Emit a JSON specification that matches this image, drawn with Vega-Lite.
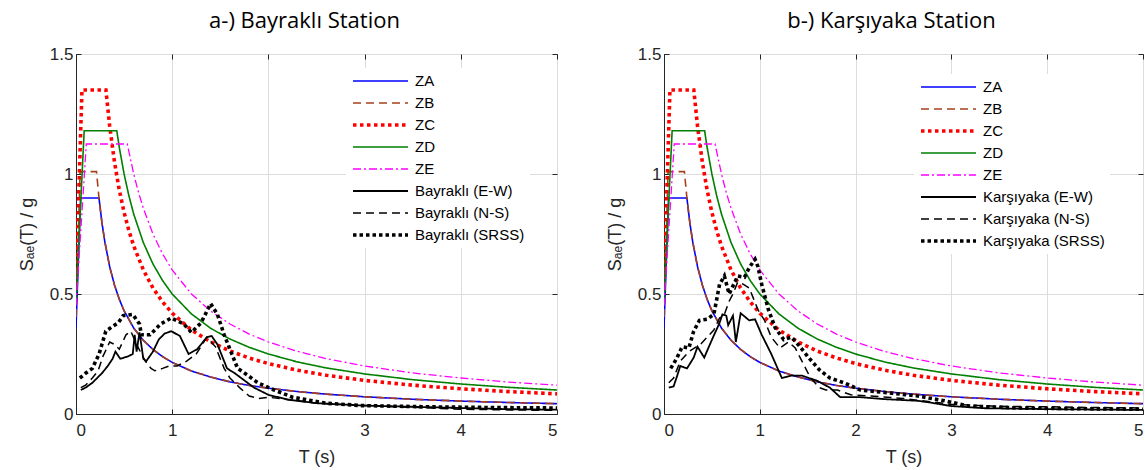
{
  "$schema": "https://vega.github.io/schema/vega-lite/v6.json",
  "padding": {"left": 17, "top": 9, "right": 0, "bottom": 0},
  "background": "white",
  "spacing": 44,
  "resolve": {
    "scale": {"color": "independent", "strokeDash": "independent", "strokeWidth": "independent"},
    "legend": {"color": "independent", "strokeDash": "independent", "strokeWidth": "independent"}
  },
  "config": {
    "view": {"stroke": "#262626", "strokeWidth": 1},
    "title": {"font": "Open Sans", "fontSize": 22, "fontWeight": "normal", "color": "#000000", "offset": 12, "dx": -12},
    "axis": {
      "domainColor": "#262626", "tickColor": "#262626", "labelColor": "#262626", "titleColor": "#262626",
      "labelFont": "Liberation Sans", "labelFontSize": 17, "titleFont": "Liberation Sans", "titleFontSize": 18,
      "titleFontWeight": "normal", "gridColor": "#dcdcdc", "gridWidth": 1, "tickSize": -5, "labelPadding": 8
    },
    "legend": {
      "labelFont": "Liberation Sans", "labelFontSize": 15, "labelColor": "#000000",
      "symbolSize": 3025, "symbolType": "stroke", "clipHeight": 16, "rowPadding": 6,
      "fillColor": "white", "padding": 5, "labelOffset": 5
    }
  },
  "datasets": {
    "design": [
      {"series": "ZA", "T": 0, "Sa": 0.36}, {"series": "ZA", "T": 0.048, "Sa": 0.9}, {"series": "ZA", "T": 0.239, "Sa": 0.9},
      {"series": "ZA", "T": 0.27, "Sa": 0.796}, {"series": "ZA", "T": 0.3, "Sa": 0.717}, {"series": "ZA", "T": 0.35, "Sa": 0.614},
      {"series": "ZA", "T": 0.4, "Sa": 0.5375}, {"series": "ZA", "T": 0.45, "Sa": 0.478}, {"series": "ZA", "T": 0.5, "Sa": 0.43},
      {"series": "ZA", "T": 0.6, "Sa": 0.358}, {"series": "ZA", "T": 0.7, "Sa": 0.307}, {"series": "ZA", "T": 0.8, "Sa": 0.269},
      {"series": "ZA", "T": 0.9, "Sa": 0.239}, {"series": "ZA", "T": 1.0, "Sa": 0.215}, {"series": "ZA", "T": 1.2, "Sa": 0.179},
      {"series": "ZA", "T": 1.4, "Sa": 0.154}, {"series": "ZA", "T": 1.6, "Sa": 0.134}, {"series": "ZA", "T": 1.8, "Sa": 0.119},
      {"series": "ZA", "T": 2.0, "Sa": 0.1075}, {"series": "ZA", "T": 2.3, "Sa": 0.0935}, {"series": "ZA", "T": 2.6, "Sa": 0.0827},
      {"series": "ZA", "T": 3.0, "Sa": 0.0717}, {"series": "ZA", "T": 3.5, "Sa": 0.0614}, {"series": "ZA", "T": 4.0, "Sa": 0.0538},
      {"series": "ZA", "T": 4.5, "Sa": 0.0478}, {"series": "ZA", "T": 5.0, "Sa": 0.043},

      {"series": "ZB", "T": 0, "Sa": 0.404}, {"series": "ZB", "T": 0.0426, "Sa": 1.01}, {"series": "ZB", "T": 0.213, "Sa": 1.01},
      {"series": "ZB", "T": 0.24, "Sa": 0.896}, {"series": "ZB", "T": 0.27, "Sa": 0.796}, {"series": "ZB", "T": 0.3, "Sa": 0.717},
      {"series": "ZB", "T": 0.35, "Sa": 0.614}, {"series": "ZB", "T": 0.4, "Sa": 0.5375}, {"series": "ZB", "T": 0.45, "Sa": 0.478},
      {"series": "ZB", "T": 0.5, "Sa": 0.43}, {"series": "ZB", "T": 0.6, "Sa": 0.358}, {"series": "ZB", "T": 0.7, "Sa": 0.307},
      {"series": "ZB", "T": 0.8, "Sa": 0.269}, {"series": "ZB", "T": 0.9, "Sa": 0.239}, {"series": "ZB", "T": 1.0, "Sa": 0.215},
      {"series": "ZB", "T": 1.2, "Sa": 0.179}, {"series": "ZB", "T": 1.4, "Sa": 0.154}, {"series": "ZB", "T": 1.6, "Sa": 0.134},
      {"series": "ZB", "T": 1.8, "Sa": 0.119}, {"series": "ZB", "T": 2.0, "Sa": 0.1075}, {"series": "ZB", "T": 2.3, "Sa": 0.0935},
      {"series": "ZB", "T": 2.6, "Sa": 0.0827}, {"series": "ZB", "T": 3.0, "Sa": 0.0717}, {"series": "ZB", "T": 3.5, "Sa": 0.0614},
      {"series": "ZB", "T": 4.0, "Sa": 0.0538}, {"series": "ZB", "T": 4.5, "Sa": 0.0478}, {"series": "ZB", "T": 5.0, "Sa": 0.043},

      {"series": "ZC", "T": 0, "Sa": 0.54}, {"series": "ZC", "T": 0.062, "Sa": 1.35}, {"series": "ZC", "T": 0.311, "Sa": 1.35},
      {"series": "ZC", "T": 0.35, "Sa": 1.2}, {"series": "ZC", "T": 0.4, "Sa": 1.05}, {"series": "ZC", "T": 0.45, "Sa": 0.933},
      {"series": "ZC", "T": 0.5, "Sa": 0.84}, {"series": "ZC", "T": 0.55, "Sa": 0.764}, {"series": "ZC", "T": 0.6, "Sa": 0.7},
      {"series": "ZC", "T": 0.7, "Sa": 0.6}, {"series": "ZC", "T": 0.8, "Sa": 0.525}, {"series": "ZC", "T": 0.9, "Sa": 0.467},
      {"series": "ZC", "T": 1.0, "Sa": 0.42}, {"series": "ZC", "T": 1.2, "Sa": 0.35}, {"series": "ZC", "T": 1.4, "Sa": 0.3},
      {"series": "ZC", "T": 1.6, "Sa": 0.2625}, {"series": "ZC", "T": 1.8, "Sa": 0.2333}, {"series": "ZC", "T": 2.0, "Sa": 0.21},
      {"series": "ZC", "T": 2.3, "Sa": 0.1826}, {"series": "ZC", "T": 2.6, "Sa": 0.1615}, {"series": "ZC", "T": 3.0, "Sa": 0.14},
      {"series": "ZC", "T": 3.5, "Sa": 0.12}, {"series": "ZC", "T": 4.0, "Sa": 0.105}, {"series": "ZC", "T": 4.5, "Sa": 0.0933},
      {"series": "ZC", "T": 5.0, "Sa": 0.084},

      {"series": "ZD", "T": 0, "Sa": 0.472}, {"series": "ZD", "T": 0.085, "Sa": 1.18}, {"series": "ZD", "T": 0.424, "Sa": 1.18},
      {"series": "ZD", "T": 0.45, "Sa": 1.111}, {"series": "ZD", "T": 0.5, "Sa": 1.0}, {"series": "ZD", "T": 0.55, "Sa": 0.909},
      {"series": "ZD", "T": 0.6, "Sa": 0.833}, {"series": "ZD", "T": 0.7, "Sa": 0.714}, {"series": "ZD", "T": 0.8, "Sa": 0.625},
      {"series": "ZD", "T": 0.9, "Sa": 0.556}, {"series": "ZD", "T": 1.0, "Sa": 0.5}, {"series": "ZD", "T": 1.2, "Sa": 0.417},
      {"series": "ZD", "T": 1.4, "Sa": 0.357}, {"series": "ZD", "T": 1.6, "Sa": 0.3125}, {"series": "ZD", "T": 1.8, "Sa": 0.278},
      {"series": "ZD", "T": 2.0, "Sa": 0.25}, {"series": "ZD", "T": 2.3, "Sa": 0.217}, {"series": "ZD", "T": 2.6, "Sa": 0.192},
      {"series": "ZD", "T": 3.0, "Sa": 0.167}, {"series": "ZD", "T": 3.5, "Sa": 0.143}, {"series": "ZD", "T": 4.0, "Sa": 0.125},
      {"series": "ZD", "T": 4.5, "Sa": 0.111}, {"series": "ZD", "T": 5.0, "Sa": 0.1},

      {"series": "ZE", "T": 0, "Sa": 0.45}, {"series": "ZE", "T": 0.107, "Sa": 1.125}, {"series": "ZE", "T": 0.533, "Sa": 1.125},
      {"series": "ZE", "T": 0.6, "Sa": 1.0}, {"series": "ZE", "T": 0.65, "Sa": 0.923}, {"series": "ZE", "T": 0.7, "Sa": 0.857},
      {"series": "ZE", "T": 0.8, "Sa": 0.75}, {"series": "ZE", "T": 0.9, "Sa": 0.667}, {"series": "ZE", "T": 1.0, "Sa": 0.6},
      {"series": "ZE", "T": 1.2, "Sa": 0.5}, {"series": "ZE", "T": 1.4, "Sa": 0.429}, {"series": "ZE", "T": 1.6, "Sa": 0.375},
      {"series": "ZE", "T": 1.8, "Sa": 0.333}, {"series": "ZE", "T": 2.0, "Sa": 0.3}, {"series": "ZE", "T": 2.3, "Sa": 0.261},
      {"series": "ZE", "T": 2.6, "Sa": 0.231}, {"series": "ZE", "T": 3.0, "Sa": 0.2}, {"series": "ZE", "T": 3.5, "Sa": 0.171},
      {"series": "ZE", "T": 4.0, "Sa": 0.15}, {"series": "ZE", "T": 4.5, "Sa": 0.133}, {"series": "ZE", "T": 5.0, "Sa": 0.12}
    ],
    "records": [
      {"station": "B", "series": "Bayraklı (E-W)", "T": 0.05, "Sa": 0.10}, {"station": "B", "series": "Bayraklı (E-W)", "T": 0.1, "Sa": 0.11},
      {"station": "B", "series": "Bayraklı (E-W)", "T": 0.17, "Sa": 0.13}, {"station": "B", "series": "Bayraklı (E-W)", "T": 0.27, "Sa": 0.17},
      {"station": "B", "series": "Bayraklı (E-W)", "T": 0.33, "Sa": 0.2}, {"station": "B", "series": "Bayraklı (E-W)", "T": 0.38, "Sa": 0.23},
      {"station": "B", "series": "Bayraklı (E-W)", "T": 0.41, "Sa": 0.26}, {"station": "B", "series": "Bayraklı (E-W)", "T": 0.46, "Sa": 0.23},
      {"station": "B", "series": "Bayraklı (E-W)", "T": 0.54, "Sa": 0.24}, {"station": "B", "series": "Bayraklı (E-W)", "T": 0.59, "Sa": 0.25},
      {"station": "B", "series": "Bayraklı (E-W)", "T": 0.61, "Sa": 0.33}, {"station": "B", "series": "Bayraklı (E-W)", "T": 0.63, "Sa": 0.26},
      {"station": "B", "series": "Bayraklı (E-W)", "T": 0.66, "Sa": 0.34}, {"station": "B", "series": "Bayraklı (E-W)", "T": 0.7, "Sa": 0.23},
      {"station": "B", "series": "Bayraklı (E-W)", "T": 0.73, "Sa": 0.22}, {"station": "B", "series": "Bayraklı (E-W)", "T": 0.8, "Sa": 0.26},
      {"station": "B", "series": "Bayraklı (E-W)", "T": 0.86, "Sa": 0.31}, {"station": "B", "series": "Bayraklı (E-W)", "T": 0.92, "Sa": 0.335},
      {"station": "B", "series": "Bayraklı (E-W)", "T": 0.99, "Sa": 0.345}, {"station": "B", "series": "Bayraklı (E-W)", "T": 1.08, "Sa": 0.325},
      {"station": "B", "series": "Bayraklı (E-W)", "T": 1.17, "Sa": 0.25}, {"station": "B", "series": "Bayraklı (E-W)", "T": 1.26, "Sa": 0.27},
      {"station": "B", "series": "Bayraklı (E-W)", "T": 1.36, "Sa": 0.32}, {"station": "B", "series": "Bayraklı (E-W)", "T": 1.41, "Sa": 0.325},
      {"station": "B", "series": "Bayraklı (E-W)", "T": 1.47, "Sa": 0.29}, {"station": "B", "series": "Bayraklı (E-W)", "T": 1.51, "Sa": 0.25},
      {"station": "B", "series": "Bayraklı (E-W)", "T": 1.57, "Sa": 0.19}, {"station": "B", "series": "Bayraklı (E-W)", "T": 1.65, "Sa": 0.17},
      {"station": "B", "series": "Bayraklı (E-W)", "T": 1.75, "Sa": 0.14}, {"station": "B", "series": "Bayraklı (E-W)", "T": 1.85, "Sa": 0.11},
      {"station": "B", "series": "Bayraklı (E-W)", "T": 2.0, "Sa": 0.08}, {"station": "B", "series": "Bayraklı (E-W)", "T": 2.2, "Sa": 0.06},
      {"station": "B", "series": "Bayraklı (E-W)", "T": 2.5, "Sa": 0.045}, {"station": "B", "series": "Bayraklı (E-W)", "T": 3.0, "Sa": 0.035},
      {"station": "B", "series": "Bayraklı (E-W)", "T": 3.5, "Sa": 0.03}, {"station": "B", "series": "Bayraklı (E-W)", "T": 4.0, "Sa": 0.025},
      {"station": "B", "series": "Bayraklı (E-W)", "T": 4.5, "Sa": 0.02}, {"station": "B", "series": "Bayraklı (E-W)", "T": 5.0, "Sa": 0.018},

      {"station": "B", "series": "Bayraklı (N-S)", "T": 0.05, "Sa": 0.11}, {"station": "B", "series": "Bayraklı (N-S)", "T": 0.1, "Sa": 0.12},
      {"station": "B", "series": "Bayraklı (N-S)", "T": 0.17, "Sa": 0.15}, {"station": "B", "series": "Bayraklı (N-S)", "T": 0.23, "Sa": 0.18},
      {"station": "B", "series": "Bayraklı (N-S)", "T": 0.28, "Sa": 0.24}, {"station": "B", "series": "Bayraklı (N-S)", "T": 0.35, "Sa": 0.3},
      {"station": "B", "series": "Bayraklı (N-S)", "T": 0.4, "Sa": 0.29}, {"station": "B", "series": "Bayraklı (N-S)", "T": 0.45, "Sa": 0.27},
      {"station": "B", "series": "Bayraklı (N-S)", "T": 0.52, "Sa": 0.33}, {"station": "B", "series": "Bayraklı (N-S)", "T": 0.57, "Sa": 0.345},
      {"station": "B", "series": "Bayraklı (N-S)", "T": 0.63, "Sa": 0.29}, {"station": "B", "series": "Bayraklı (N-S)", "T": 0.72, "Sa": 0.22},
      {"station": "B", "series": "Bayraklı (N-S)", "T": 0.78, "Sa": 0.19}, {"station": "B", "series": "Bayraklı (N-S)", "T": 0.82, "Sa": 0.18},
      {"station": "B", "series": "Bayraklı (N-S)", "T": 0.9, "Sa": 0.19}, {"station": "B", "series": "Bayraklı (N-S)", "T": 0.97, "Sa": 0.2},
      {"station": "B", "series": "Bayraklı (N-S)", "T": 1.05, "Sa": 0.2}, {"station": "B", "series": "Bayraklı (N-S)", "T": 1.15, "Sa": 0.22},
      {"station": "B", "series": "Bayraklı (N-S)", "T": 1.25, "Sa": 0.25}, {"station": "B", "series": "Bayraklı (N-S)", "T": 1.36, "Sa": 0.32},
      {"station": "B", "series": "Bayraklı (N-S)", "T": 1.45, "Sa": 0.28}, {"station": "B", "series": "Bayraklı (N-S)", "T": 1.54, "Sa": 0.19},
      {"station": "B", "series": "Bayraklı (N-S)", "T": 1.6, "Sa": 0.15}, {"station": "B", "series": "Bayraklı (N-S)", "T": 1.7, "Sa": 0.11},
      {"station": "B", "series": "Bayraklı (N-S)", "T": 1.8, "Sa": 0.075}, {"station": "B", "series": "Bayraklı (N-S)", "T": 1.9, "Sa": 0.065},
      {"station": "B", "series": "Bayraklı (N-S)", "T": 2.0, "Sa": 0.07}, {"station": "B", "series": "Bayraklı (N-S)", "T": 2.2, "Sa": 0.06},
      {"station": "B", "series": "Bayraklı (N-S)", "T": 2.5, "Sa": 0.045}, {"station": "B", "series": "Bayraklı (N-S)", "T": 3.0, "Sa": 0.035},
      {"station": "B", "series": "Bayraklı (N-S)", "T": 3.5, "Sa": 0.028}, {"station": "B", "series": "Bayraklı (N-S)", "T": 4.0, "Sa": 0.02},
      {"station": "B", "series": "Bayraklı (N-S)", "T": 4.5, "Sa": 0.017}, {"station": "B", "series": "Bayraklı (N-S)", "T": 5.0, "Sa": 0.015},

      {"station": "B", "series": "Bayraklı (SRSS)", "T": 0.04, "Sa": 0.15}, {"station": "B", "series": "Bayraklı (SRSS)", "T": 0.1, "Sa": 0.17},
      {"station": "B", "series": "Bayraklı (SRSS)", "T": 0.17, "Sa": 0.19}, {"station": "B", "series": "Bayraklı (SRSS)", "T": 0.24, "Sa": 0.25},
      {"station": "B", "series": "Bayraklı (SRSS)", "T": 0.31, "Sa": 0.345}, {"station": "B", "series": "Bayraklı (SRSS)", "T": 0.38, "Sa": 0.365},
      {"station": "B", "series": "Bayraklı (SRSS)", "T": 0.44, "Sa": 0.38}, {"station": "B", "series": "Bayraklı (SRSS)", "T": 0.49, "Sa": 0.41},
      {"station": "B", "series": "Bayraklı (SRSS)", "T": 0.59, "Sa": 0.415}, {"station": "B", "series": "Bayraklı (SRSS)", "T": 0.66, "Sa": 0.375},
      {"station": "B", "series": "Bayraklı (SRSS)", "T": 0.68, "Sa": 0.33}, {"station": "B", "series": "Bayraklı (SRSS)", "T": 0.77, "Sa": 0.33},
      {"station": "B", "series": "Bayraklı (SRSS)", "T": 0.88, "Sa": 0.375}, {"station": "B", "series": "Bayraklı (SRSS)", "T": 0.99, "Sa": 0.4},
      {"station": "B", "series": "Bayraklı (SRSS)", "T": 1.12, "Sa": 0.375}, {"station": "B", "series": "Bayraklı (SRSS)", "T": 1.2, "Sa": 0.34},
      {"station": "B", "series": "Bayraklı (SRSS)", "T": 1.3, "Sa": 0.38}, {"station": "B", "series": "Bayraklı (SRSS)", "T": 1.4, "Sa": 0.46},
      {"station": "B", "series": "Bayraklı (SRSS)", "T": 1.47, "Sa": 0.415}, {"station": "B", "series": "Bayraklı (SRSS)", "T": 1.54, "Sa": 0.33},
      {"station": "B", "series": "Bayraklı (SRSS)", "T": 1.61, "Sa": 0.26}, {"station": "B", "series": "Bayraklı (SRSS)", "T": 1.68, "Sa": 0.19},
      {"station": "B", "series": "Bayraklı (SRSS)", "T": 1.79, "Sa": 0.16}, {"station": "B", "series": "Bayraklı (SRSS)", "T": 1.89, "Sa": 0.13},
      {"station": "B", "series": "Bayraklı (SRSS)", "T": 2.06, "Sa": 0.1}, {"station": "B", "series": "Bayraklı (SRSS)", "T": 2.25, "Sa": 0.07},
      {"station": "B", "series": "Bayraklı (SRSS)", "T": 2.6, "Sa": 0.045}, {"station": "B", "series": "Bayraklı (SRSS)", "T": 2.97, "Sa": 0.035},
      {"station": "B", "series": "Bayraklı (SRSS)", "T": 3.65, "Sa": 0.03}, {"station": "B", "series": "Bayraklı (SRSS)", "T": 4.3, "Sa": 0.027},
      {"station": "B", "series": "Bayraklı (SRSS)", "T": 5.0, "Sa": 0.025},

      {"station": "K", "series": "Karşıyaka (E-W)", "T": 0.05, "Sa": 0.11}, {"station": "K", "series": "Karşıyaka (E-W)", "T": 0.1, "Sa": 0.115},
      {"station": "K", "series": "Karşıyaka (E-W)", "T": 0.13, "Sa": 0.15}, {"station": "K", "series": "Karşıyaka (E-W)", "T": 0.17, "Sa": 0.2},
      {"station": "K", "series": "Karşıyaka (E-W)", "T": 0.24, "Sa": 0.19}, {"station": "K", "series": "Karşıyaka (E-W)", "T": 0.31, "Sa": 0.235},
      {"station": "K", "series": "Karşıyaka (E-W)", "T": 0.35, "Sa": 0.28}, {"station": "K", "series": "Karşıyaka (E-W)", "T": 0.42, "Sa": 0.235},
      {"station": "K", "series": "Karşıyaka (E-W)", "T": 0.49, "Sa": 0.3}, {"station": "K", "series": "Karşıyaka (E-W)", "T": 0.58, "Sa": 0.38},
      {"station": "K", "series": "Karşıyaka (E-W)", "T": 0.61, "Sa": 0.415}, {"station": "K", "series": "Karşıyaka (E-W)", "T": 0.65, "Sa": 0.41},
      {"station": "K", "series": "Karşıyaka (E-W)", "T": 0.67, "Sa": 0.37}, {"station": "K", "series": "Karşıyaka (E-W)", "T": 0.72, "Sa": 0.41},
      {"station": "K", "series": "Karşıyaka (E-W)", "T": 0.75, "Sa": 0.3}, {"station": "K", "series": "Karşıyaka (E-W)", "T": 0.8, "Sa": 0.42},
      {"station": "K", "series": "Karşıyaka (E-W)", "T": 0.86, "Sa": 0.4}, {"station": "K", "series": "Karşıyaka (E-W)", "T": 0.89, "Sa": 0.39},
      {"station": "K", "series": "Karşıyaka (E-W)", "T": 0.95, "Sa": 0.395}, {"station": "K", "series": "Karşıyaka (E-W)", "T": 1.02, "Sa": 0.33},
      {"station": "K", "series": "Karşıyaka (E-W)", "T": 1.12, "Sa": 0.25}, {"station": "K", "series": "Karşıyaka (E-W)", "T": 1.23, "Sa": 0.15},
      {"station": "K", "series": "Karşıyaka (E-W)", "T": 1.33, "Sa": 0.16}, {"station": "K", "series": "Karşıyaka (E-W)", "T": 1.44, "Sa": 0.16},
      {"station": "K", "series": "Karşıyaka (E-W)", "T": 1.51, "Sa": 0.15}, {"station": "K", "series": "Karşıyaka (E-W)", "T": 1.59, "Sa": 0.14},
      {"station": "K", "series": "Karşıyaka (E-W)", "T": 1.73, "Sa": 0.11}, {"station": "K", "series": "Karşıyaka (E-W)", "T": 1.84, "Sa": 0.07},
      {"station": "K", "series": "Karşıyaka (E-W)", "T": 2.05, "Sa": 0.07}, {"station": "K", "series": "Karşıyaka (E-W)", "T": 2.3, "Sa": 0.062},
      {"station": "K", "series": "Karşıyaka (E-W)", "T": 2.65, "Sa": 0.055}, {"station": "K", "series": "Karşıyaka (E-W)", "T": 2.79, "Sa": 0.047},
      {"station": "K", "series": "Karşıyaka (E-W)", "T": 3.0, "Sa": 0.033}, {"station": "K", "series": "Karşıyaka (E-W)", "T": 3.35, "Sa": 0.024},
      {"station": "K", "series": "Karşıyaka (E-W)", "T": 4.06, "Sa": 0.02}, {"station": "K", "series": "Karşıyaka (E-W)", "T": 5.0, "Sa": 0.017},

      {"station": "K", "series": "Karşıyaka (N-S)", "T": 0.05, "Sa": 0.13}, {"station": "K", "series": "Karşıyaka (N-S)", "T": 0.1, "Sa": 0.15},
      {"station": "K", "series": "Karşıyaka (N-S)", "T": 0.17, "Sa": 0.22}, {"station": "K", "series": "Karşıyaka (N-S)", "T": 0.26, "Sa": 0.26},
      {"station": "K", "series": "Karşıyaka (N-S)", "T": 0.38, "Sa": 0.29}, {"station": "K", "series": "Karşıyaka (N-S)", "T": 0.45, "Sa": 0.32},
      {"station": "K", "series": "Karşıyaka (N-S)", "T": 0.52, "Sa": 0.35}, {"station": "K", "series": "Karşıyaka (N-S)", "T": 0.58, "Sa": 0.4},
      {"station": "K", "series": "Karşıyaka (N-S)", "T": 0.63, "Sa": 0.415}, {"station": "K", "series": "Karşıyaka (N-S)", "T": 0.68, "Sa": 0.47},
      {"station": "K", "series": "Karşıyaka (N-S)", "T": 0.72, "Sa": 0.5}, {"station": "K", "series": "Karşıyaka (N-S)", "T": 0.77, "Sa": 0.55},
      {"station": "K", "series": "Karşıyaka (N-S)", "T": 0.83, "Sa": 0.54}, {"station": "K", "series": "Karşıyaka (N-S)", "T": 0.89, "Sa": 0.525},
      {"station": "K", "series": "Karşıyaka (N-S)", "T": 0.93, "Sa": 0.485}, {"station": "K", "series": "Karşıyaka (N-S)", "T": 0.98, "Sa": 0.435},
      {"station": "K", "series": "Karşıyaka (N-S)", "T": 1.05, "Sa": 0.39}, {"station": "K", "series": "Karşıyaka (N-S)", "T": 1.12, "Sa": 0.32},
      {"station": "K", "series": "Karşıyaka (N-S)", "T": 1.21, "Sa": 0.275}, {"station": "K", "series": "Karşıyaka (N-S)", "T": 1.3, "Sa": 0.3},
      {"station": "K", "series": "Karşıyaka (N-S)", "T": 1.37, "Sa": 0.275}, {"station": "K", "series": "Karşıyaka (N-S)", "T": 1.44, "Sa": 0.22},
      {"station": "K", "series": "Karşıyaka (N-S)", "T": 1.53, "Sa": 0.15}, {"station": "K", "series": "Karşıyaka (N-S)", "T": 1.62, "Sa": 0.11},
      {"station": "K", "series": "Karşıyaka (N-S)", "T": 1.69, "Sa": 0.1}, {"station": "K", "series": "Karşıyaka (N-S)", "T": 1.81, "Sa": 0.1},
      {"station": "K", "series": "Karşıyaka (N-S)", "T": 1.95, "Sa": 0.08}, {"station": "K", "series": "Karşıyaka (N-S)", "T": 2.16, "Sa": 0.075},
      {"station": "K", "series": "Karşıyaka (N-S)", "T": 2.5, "Sa": 0.065}, {"station": "K", "series": "Karşıyaka (N-S)", "T": 3.0, "Sa": 0.04},
      {"station": "K", "series": "Karşıyaka (N-S)", "T": 3.5, "Sa": 0.032}, {"station": "K", "series": "Karşıyaka (N-S)", "T": 4.0, "Sa": 0.03},
      {"station": "K", "series": "Karşıyaka (N-S)", "T": 4.5, "Sa": 0.027}, {"station": "K", "series": "Karşıyaka (N-S)", "T": 5.0, "Sa": 0.025},

      {"station": "K", "series": "Karşıyaka (SRSS)", "T": 0.07, "Sa": 0.19}, {"station": "K", "series": "Karşıyaka (SRSS)", "T": 0.13, "Sa": 0.23},
      {"station": "K", "series": "Karşıyaka (SRSS)", "T": 0.19, "Sa": 0.28}, {"station": "K", "series": "Karşıyaka (SRSS)", "T": 0.26, "Sa": 0.275},
      {"station": "K", "series": "Karşıyaka (SRSS)", "T": 0.31, "Sa": 0.345}, {"station": "K", "series": "Karşıyaka (SRSS)", "T": 0.37, "Sa": 0.39},
      {"station": "K", "series": "Karşıyaka (SRSS)", "T": 0.45, "Sa": 0.395}, {"station": "K", "series": "Karşıyaka (SRSS)", "T": 0.52, "Sa": 0.415},
      {"station": "K", "series": "Karşıyaka (SRSS)", "T": 0.58, "Sa": 0.54}, {"station": "K", "series": "Karşıyaka (SRSS)", "T": 0.63, "Sa": 0.575},
      {"station": "K", "series": "Karşıyaka (SRSS)", "T": 0.68, "Sa": 0.5}, {"station": "K", "series": "Karşıyaka (SRSS)", "T": 0.77, "Sa": 0.575},
      {"station": "K", "series": "Karşıyaka (SRSS)", "T": 0.84, "Sa": 0.57}, {"station": "K", "series": "Karşıyaka (SRSS)", "T": 0.89, "Sa": 0.61},
      {"station": "K", "series": "Karşıyaka (SRSS)", "T": 0.95, "Sa": 0.645}, {"station": "K", "series": "Karşıyaka (SRSS)", "T": 0.98, "Sa": 0.615},
      {"station": "K", "series": "Karşıyaka (SRSS)", "T": 1.02, "Sa": 0.54}, {"station": "K", "series": "Karşıyaka (SRSS)", "T": 1.09, "Sa": 0.435},
      {"station": "K", "series": "Karşıyaka (SRSS)", "T": 1.16, "Sa": 0.36}, {"station": "K", "series": "Karşıyaka (SRSS)", "T": 1.25, "Sa": 0.31},
      {"station": "K", "series": "Karşıyaka (SRSS)", "T": 1.33, "Sa": 0.32}, {"station": "K", "series": "Karşıyaka (SRSS)", "T": 1.4, "Sa": 0.29},
      {"station": "K", "series": "Karşıyaka (SRSS)", "T": 1.51, "Sa": 0.235}, {"station": "K", "series": "Karşıyaka (SRSS)", "T": 1.62, "Sa": 0.185},
      {"station": "K", "series": "Karşıyaka (SRSS)", "T": 1.73, "Sa": 0.15}, {"station": "K", "series": "Karşıyaka (SRSS)", "T": 1.88, "Sa": 0.13},
      {"station": "K", "series": "Karşıyaka (SRSS)", "T": 2.05, "Sa": 0.1}, {"station": "K", "series": "Karşıyaka (SRSS)", "T": 2.3, "Sa": 0.09},
      {"station": "K", "series": "Karşıyaka (SRSS)", "T": 2.65, "Sa": 0.075}, {"station": "K", "series": "Karşıyaka (SRSS)", "T": 2.93, "Sa": 0.055},
      {"station": "K", "series": "Karşıyaka (SRSS)", "T": 3.18, "Sa": 0.033}, {"station": "K", "series": "Karşıyaka (SRSS)", "T": 3.7, "Sa": 0.025},
      {"station": "K", "series": "Karşıyaka (SRSS)", "T": 4.3, "Sa": 0.022}, {"station": "K", "series": "Karşıyaka (SRSS)", "T": 5.0, "Sa": 0.02}
    ]
  },
  "hconcat": [
    {
      "width": 481, "height": 360,
      "title": {"text": "a-) Bayraklı Station"},
      "resolve": {"axis": {"x": "independent", "y": "independent"}},
      "encoding": {
        "color": {"field": "series", "type": "nominal",
          "scale": {"domain": ["ZA", "ZB", "ZC", "ZD", "ZE", "Bayraklı (E-W)", "Bayraklı (N-S)", "Bayraklı (SRSS)"],
                    "range": ["#0000ff", "#a8401c", "#ff0000", "#007f00", "#ff00ff", "#000000", "#000000", "#000000"]},
          "legend": {"title": null, "orient": "none", "legendX": 270, "legendY": 14}},
        "strokeDash": {"field": "series", "type": "nominal",
          "scale": {"domain": ["ZA", "ZB", "ZC", "ZD", "ZE", "Bayraklı (E-W)", "Bayraklı (N-S)", "Bayraklı (SRSS)"],
                    "range": [[1, 0], [8, 5], [3.5, 3.5], [1, 0], [8, 3, 2, 3], [1, 0], [8, 5], [3.5, 3]]},
          "legend": {"title": null, "orient": "none", "legendX": 270, "legendY": 14}},
        "strokeWidth": {"field": "series", "type": "nominal",
          "scale": {"type": "ordinal", "domain": ["ZA", "ZB", "ZC", "ZD", "ZE", "Bayraklı (E-W)", "Bayraklı (N-S)", "Bayraklı (SRSS)"],
                    "range": [1.6, 1.6, 3.6, 1.6, 1.3, 1.8, 1.5, 3.6]},
          "legend": {"title": null, "orient": "none", "legendX": 270, "legendY": 14}}
      },
      "layer": [
        {
          "data": {"name": "design"},
          "mark": {"type": "line", "clip": true},
          "encoding": {
            "x": {"field": "T", "type": "quantitative", "scale": {"domain": [0, 5], "nice": false},
                  "axis": {"values": [0, 1, 2, 3, 4, 5], "title": "T (s)", "labelExpr": "datum.value + ''", "labelPadding": 13, "titlePadding": 10}},
            "y": {"field": "Sa", "type": "quantitative", "scale": {"domain": [0, 1.5], "nice": false},
                  "axis": {"values": [0, 0.5, 1, 1.5], "title": "Sₐₑ(T) / g", "labelExpr": "datum.value + ''", "titlePadding": 13}}
          }
        },
        {
          "data": {"name": "records"},
          "transform": [{"filter": "datum.station == 'B'"}],
          "mark": {"type": "line", "clip": true},
          "encoding": {
            "x": {"field": "T", "type": "quantitative", "axis": null},
            "y": {"field": "Sa", "type": "quantitative", "axis": null}
          }
        },
        {
          "data": {"name": "design"},
          "mark": {"type": "point", "opacity": 0},
          "encoding": {
            "x": {"field": "T", "type": "quantitative", "axis": {"orient": "top", "values": [0, 1, 2, 3, 4, 5], "labels": false, "labelPadding": 0, "title": null, "grid": false, "domain": false}},
            "y": {"field": "Sa", "type": "quantitative", "axis": {"orient": "right", "values": [0, 0.5, 1, 1.5], "labels": false, "labelPadding": 0, "title": null, "grid": false, "domain": false}},
            "color": {"value": "#000000"}, "strokeDash": {"value": [1, 0]}, "strokeWidth": {"value": 1}
          }
        }
      ]
    },
    {
      "width": 479, "height": 360,
      "title": {"text": "b-) Karşıyaka Station"},
      "resolve": {"axis": {"x": "independent", "y": "independent"}},
      "encoding": {
        "color": {"field": "series", "type": "nominal",
          "scale": {"domain": ["ZA", "ZB", "ZC", "ZD", "ZE", "Karşıyaka (E-W)", "Karşıyaka (N-S)", "Karşıyaka (SRSS)"],
                    "range": ["#0000ff", "#a8401c", "#ff0000", "#007f00", "#ff00ff", "#000000", "#000000", "#000000"]},
          "legend": {"title": null, "orient": "none", "legendX": 250, "legendY": 20}},
        "strokeDash": {"field": "series", "type": "nominal",
          "scale": {"domain": ["ZA", "ZB", "ZC", "ZD", "ZE", "Karşıyaka (E-W)", "Karşıyaka (N-S)", "Karşıyaka (SRSS)"],
                    "range": [[1, 0], [8, 5], [3.5, 3.5], [1, 0], [8, 3, 2, 3], [1, 0], [8, 5], [3.5, 3]]},
          "legend": {"title": null, "orient": "none", "legendX": 250, "legendY": 20}},
        "strokeWidth": {"field": "series", "type": "nominal",
          "scale": {"type": "ordinal", "domain": ["ZA", "ZB", "ZC", "ZD", "ZE", "Karşıyaka (E-W)", "Karşıyaka (N-S)", "Karşıyaka (SRSS)"],
                    "range": [1.6, 1.6, 3.6, 1.6, 1.3, 1.8, 1.5, 3.6]},
          "legend": {"title": null, "orient": "none", "legendX": 250, "legendY": 20}}
      },
      "layer": [
        {
          "data": {"name": "design"},
          "mark": {"type": "line", "clip": true},
          "encoding": {
            "x": {"field": "T", "type": "quantitative", "scale": {"domain": [0, 5], "nice": false},
                  "axis": {"values": [0, 1, 2, 3, 4, 5], "title": "T (s)", "labelExpr": "datum.value + ''", "labelPadding": 13, "titlePadding": 10}},
            "y": {"field": "Sa", "type": "quantitative", "scale": {"domain": [0, 1.5], "nice": false},
                  "axis": {"values": [0, 0.5, 1, 1.5], "title": "Sₐₑ(T) / g", "labelExpr": "datum.value + ''", "titlePadding": 13}}
          }
        },
        {
          "data": {"name": "records"},
          "transform": [{"filter": "datum.station == 'K'"}],
          "mark": {"type": "line", "clip": true},
          "encoding": {
            "x": {"field": "T", "type": "quantitative", "axis": null},
            "y": {"field": "Sa", "type": "quantitative", "axis": null}
          }
        },
        {
          "data": {"name": "design"},
          "mark": {"type": "point", "opacity": 0},
          "encoding": {
            "x": {"field": "T", "type": "quantitative", "axis": {"orient": "top", "values": [0, 1, 2, 3, 4, 5], "labels": false, "labelPadding": 0, "title": null, "grid": false, "domain": false}},
            "y": {"field": "Sa", "type": "quantitative", "axis": {"orient": "right", "values": [0, 0.5, 1, 1.5], "labels": false, "labelPadding": 0, "title": null, "grid": false, "domain": false}},
            "color": {"value": "#000000"}, "strokeDash": {"value": [1, 0]}, "strokeWidth": {"value": 1}
          }
        }
      ]
    }
  ]
}
